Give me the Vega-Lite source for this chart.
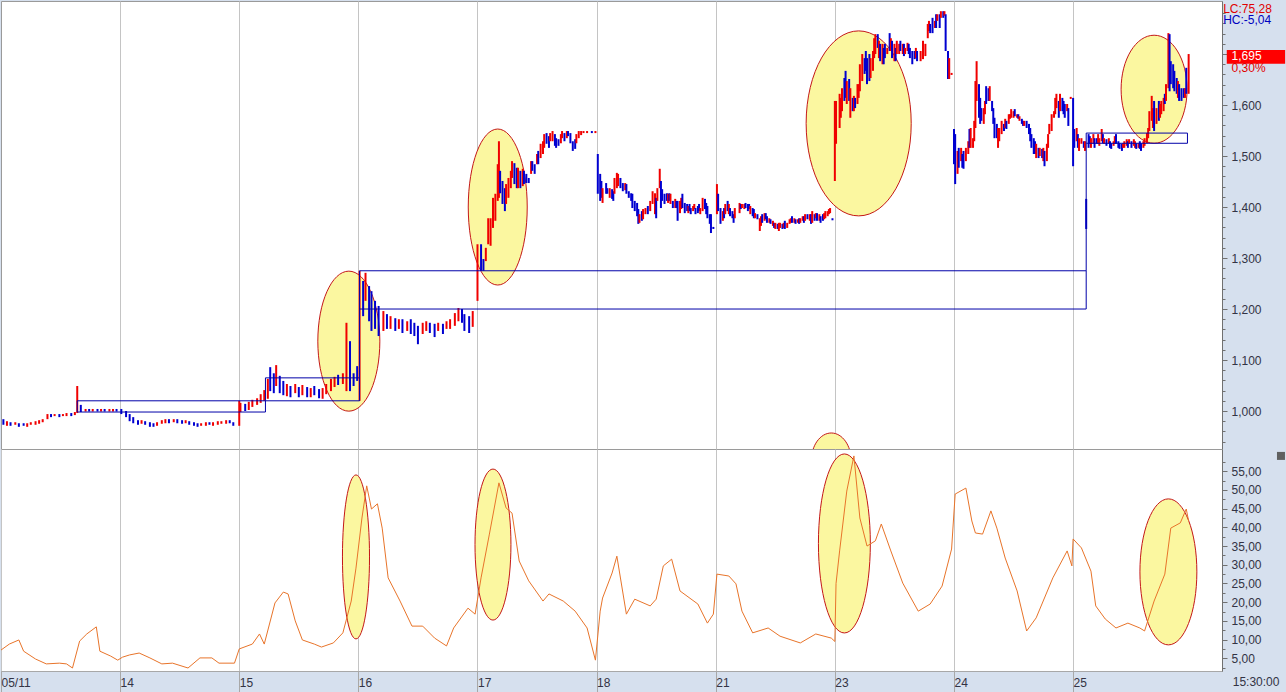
{
"$schema":"https://vega.github.io/schema/vega-lite/v6.json",
"background":"#d6e0ee",
"padding":0,
"spacing":0,
"bounds":"flush",
"config":{"view":{"stroke":"#9a9a9a","fill":"#ffffff"},"font":"Liberation Sans","axis":{"labelFont":"Liberation Sans","labelFontSize":12,"labelColor":"#333344"}},
"datasets":{
"candles":[
{"t":0.02,"p":973,"p2":984,"c":"d"},{"t":0.05,"p":971,"p2":980,"c":"u"},{"t":0.08,"p":971,"p2":978,"c":"d"},{"t":0.12,"p":973,"p2":978,"c":"u"},{"t":0.15,"p":969,"p2":976,"c":"d"},{"t":0.19,"p":971,"p2":976,"c":"d"},{"t":0.22,"p":969,"p2":976,"c":"u"},{"t":0.25,"p":973,"p2":978,"c":"u"},{"t":0.29,"p":973,"p2":980,"c":"u"},{"t":0.32,"p":975,"p2":982,"c":"u"},{"t":0.35,"p":978,"p2":984,"c":"u"},{"t":0.39,"p":984,"p2":994,"c":"u"},{"t":0.42,"p":988,"p2":994,"c":"d"},{"t":0.45,"p":990,"p2":994,"c":"u"},{"t":0.49,"p":988,"p2":994,"c":"d"},{"t":0.52,"p":990,"p2":994,"c":"u"},{"t":0.55,"p":990,"p2":996,"c":"u"},{"t":0.59,"p":990,"p2":996,"c":"d"},{"t":0.62,"p":992,"p2":998,"c":"u"},{"t":0.64,"p":996,"p2":1049,"c":"u"},{"t":0.67,"p":998,"p2":1012,"c":"d"},{"t":0.71,"p":999,"p2":1004,"c":"u"},{"t":0.74,"p":999,"p2":1004,"c":"d"},{"t":0.77,"p":999,"p2":1004,"c":"u"},{"t":0.81,"p":999,"p2":1004,"c":"d"},{"t":0.84,"p":999,"p2":1004,"c":"u"},{"t":0.87,"p":999,"p2":1004,"c":"d"},{"t":0.91,"p":999,"p2":1004,"c":"u"},{"t":0.94,"p":999,"p2":1004,"c":"u"},{"t":0.97,"p":999,"p2":1004,"c":"d"},
{"t":1.01,"p":994,"p2":1004,"c":"d"},{"t":1.05,"p":988,"p2":1000,"c":"d"},{"t":1.08,"p":980,"p2":994,"c":"d"},{"t":1.11,"p":976,"p2":988,"c":"d"},{"t":1.15,"p":973,"p2":982,"c":"d"},{"t":1.18,"p":975,"p2":982,"c":"u"},{"t":1.21,"p":973,"p2":980,"c":"d"},{"t":1.25,"p":969,"p2":978,"c":"d"},{"t":1.28,"p":969,"p2":976,"c":"d"},{"t":1.31,"p":971,"p2":978,"c":"u"},{"t":1.35,"p":975,"p2":982,"c":"u"},{"t":1.38,"p":976,"p2":984,"c":"u"},{"t":1.41,"p":976,"p2":984,"c":"d"},{"t":1.45,"p":978,"p2":984,"c":"u"},{"t":1.48,"p":976,"p2":984,"c":"d"},{"t":1.52,"p":975,"p2":982,"c":"d"},{"t":1.55,"p":976,"p2":982,"c":"u"},{"t":1.58,"p":973,"p2":980,"c":"d"},{"t":1.62,"p":971,"p2":978,"c":"d"},{"t":1.65,"p":969,"p2":976,"c":"d"},{"t":1.68,"p":971,"p2":976,"c":"u"},{"t":1.72,"p":971,"p2":978,"c":"u"},{"t":1.75,"p":973,"p2":978,"c":"d"},{"t":1.78,"p":971,"p2":978,"c":"u"},{"t":1.82,"p":973,"p2":980,"c":"u"},{"t":1.85,"p":975,"p2":980,"c":"u"},{"t":1.89,"p":975,"p2":982,"c":"u"},{"t":1.92,"p":976,"p2":982,"c":"d"},{"t":1.95,"p":971,"p2":978,"c":"d"},
{"t":2.0,"p":971,"p2":1020,"c":"u"},{"t":2.01,"p":998,"p2":1016,"c":"u"},{"t":2.05,"p":1000,"p2":1014,"c":"d"},{"t":2.08,"p":1002,"p2":1018,"c":"u"},{"t":2.11,"p":1008,"p2":1022,"c":"u"},{"t":2.15,"p":1012,"p2":1025,"c":"u"},{"t":2.18,"p":1016,"p2":1033,"c":"u"},{"t":2.21,"p":1020,"p2":1041,"c":"u"},{"t":2.24,"p":1024,"p2":1063,"c":"u"},{"t":2.26,"p":1039,"p2":1086,"c":"d"},{"t":2.29,"p":1035,"p2":1074,"c":"d"},{"t":2.31,"p":1049,"p2":1090,"c":"u"},{"t":2.34,"p":1035,"p2":1069,"c":"d"},{"t":2.37,"p":1031,"p2":1059,"c":"d"},{"t":2.4,"p":1029,"p2":1053,"c":"u"},{"t":2.43,"p":1027,"p2":1049,"c":"d"},{"t":2.47,"p":1035,"p2":1053,"c":"u"},{"t":2.5,"p":1027,"p2":1047,"c":"d"},{"t":2.53,"p":1031,"p2":1051,"c":"u"},{"t":2.57,"p":1027,"p2":1047,"c":"d"},{"t":2.6,"p":1027,"p2":1045,"c":"u"},{"t":2.63,"p":1031,"p2":1049,"c":"d"},{"t":2.67,"p":1025,"p2":1043,"c":"d"},{"t":2.7,"p":1024,"p2":1045,"c":"u"},{"t":2.73,"p":1033,"p2":1053,"c":"u"},{"t":2.77,"p":1039,"p2":1063,"c":"u"},{"t":2.8,"p":1047,"p2":1067,"c":"u"},{"t":2.83,"p":1051,"p2":1071,"c":"d"},{"t":2.87,"p":1053,"p2":1074,"c":"u"},{"t":2.9,"p":1039,"p2":1173,"c":"u"},{"t":2.93,"p":1039,"p2":1137,"c":"d"},{"t":2.96,"p":1049,"p2":1074,"c":"d"},{"t":2.99,"p":1059,"p2":1088,"c":"d"},
{"t":3.01,"p":1020,"p2":1275,"c":"u"},{"t":3.04,"p":1186,"p2":1255,"c":"d"},{"t":3.06,"p":1216,"p2":1271,"c":"u"},{"t":3.09,"p":1176,"p2":1245,"c":"d"},{"t":3.11,"p":1157,"p2":1235,"c":"d"},{"t":3.14,"p":1161,"p2":1216,"c":"d"},{"t":3.17,"p":1147,"p2":1206,"c":"d"},{"t":3.21,"p":1157,"p2":1196,"c":"u"},{"t":3.24,"p":1161,"p2":1190,"c":"d"},{"t":3.27,"p":1161,"p2":1186,"c":"u"},{"t":3.31,"p":1157,"p2":1182,"c":"d"},{"t":3.34,"p":1161,"p2":1180,"c":"u"},{"t":3.37,"p":1153,"p2":1180,"c":"d"},{"t":3.41,"p":1157,"p2":1176,"c":"u"},{"t":3.44,"p":1151,"p2":1180,"c":"d"},{"t":3.47,"p":1147,"p2":1173,"c":"d"},{"t":3.5,"p":1131,"p2":1167,"c":"d"},{"t":3.54,"p":1151,"p2":1173,"c":"u"},{"t":3.57,"p":1157,"p2":1176,"c":"u"},{"t":3.6,"p":1153,"p2":1173,"c":"d"},{"t":3.64,"p":1145,"p2":1171,"c":"d"},{"t":3.67,"p":1157,"p2":1173,"c":"u"},{"t":3.71,"p":1151,"p2":1171,"c":"d"},{"t":3.74,"p":1161,"p2":1176,"c":"u"},{"t":3.77,"p":1161,"p2":1180,"c":"u"},{"t":3.81,"p":1167,"p2":1192,"c":"u"},{"t":3.84,"p":1176,"p2":1202,"c":"u"},{"t":3.87,"p":1173,"p2":1200,"c":"d"},{"t":3.89,"p":1157,"p2":1190,"c":"d"},{"t":3.93,"p":1153,"p2":1186,"c":"d"},{"t":3.96,"p":1165,"p2":1196,"c":"u"},
{"t":4.0,"p":1216,"p2":1327,"c":"u"},{"t":4.03,"p":1275,"p2":1327,"c":"d"},{"t":4.05,"p":1275,"p2":1298,"c":"d"},{"t":4.07,"p":1294,"p2":1320,"c":"u"},{"t":4.09,"p":1327,"p2":1378,"c":"u"},{"t":4.11,"p":1324,"p2":1378,"c":"u"},{"t":4.13,"p":1359,"p2":1418,"c":"u"},{"t":4.15,"p":1373,"p2":1426,"c":"u"},{"t":4.17,"p":1412,"p2":1484,"c":"u"},{"t":4.18,"p":1418,"p2":1529,"c":"u"},{"t":4.19,"p":1427,"p2":1471,"c":"d"},{"t":4.21,"p":1406,"p2":1451,"c":"d"},{"t":4.23,"p":1392,"p2":1437,"c":"d"},{"t":4.24,"p":1406,"p2":1445,"c":"u"},{"t":4.26,"p":1418,"p2":1457,"c":"u"},{"t":4.28,"p":1437,"p2":1471,"c":"u"},{"t":4.29,"p":1457,"p2":1490,"c":"u"},{"t":4.31,"p":1445,"p2":1486,"c":"d"},{"t":4.33,"p":1437,"p2":1477,"c":"d"},{"t":4.34,"p":1437,"p2":1477,"c":"u"},{"t":4.36,"p":1437,"p2":1471,"c":"d"},{"t":4.38,"p":1441,"p2":1475,"c":"u"},{"t":4.39,"p":1445,"p2":1471,"c":"d"},{"t":4.41,"p":1447,"p2":1465,"c":"d"},{"t":4.43,"p":1447,"p2":1457,"c":"d"},{"t":4.45,"p":1465,"p2":1490,"c":"u"},{"t":4.46,"p":1471,"p2":1490,"c":"d"},{"t":4.48,"p":1465,"p2":1484,"c":"d"},{"t":4.5,"p":1484,"p2":1504,"c":"u"},{"t":4.51,"p":1484,"p2":1510,"c":"d"},{"t":4.53,"p":1496,"p2":1524,"c":"u"},{"t":4.55,"p":1504,"p2":1529,"c":"u"},{"t":4.56,"p":1516,"p2":1543,"c":"u"},{"t":4.58,"p":1524,"p2":1545,"c":"d"},{"t":4.6,"p":1516,"p2":1539,"c":"d"},{"t":4.61,"p":1529,"p2":1545,"c":"u"},{"t":4.63,"p":1529,"p2":1549,"c":"u"},{"t":4.65,"p":1520,"p2":1543,"c":"d"},{"t":4.66,"p":1516,"p2":1535,"c":"d"},{"t":4.68,"p":1520,"p2":1533,"c":"d"},{"t":4.7,"p":1525,"p2":1543,"c":"u"},{"t":4.71,"p":1535,"p2":1549,"c":"u"},{"t":4.73,"p":1529,"p2":1545,"c":"d"},{"t":4.75,"p":1535,"p2":1549,"c":"u"},{"t":4.76,"p":1539,"p2":1549,"c":"d"},{"t":4.78,"p":1525,"p2":1545,"c":"d"},{"t":4.8,"p":1510,"p2":1529,"c":"d"},{"t":4.82,"p":1514,"p2":1533,"c":"d"},{"t":4.83,"p":1525,"p2":1543,"c":"u"},{"t":4.85,"p":1535,"p2":1549,"c":"u"},{"t":4.87,"p":1541,"p2":1549,"c":"u"},{"t":4.89,"p":1545,"p2":1549,"c":"u"},{"t":4.92,"p":1545,"p2":1549,"c":"u"},{"t":4.96,"p":1545,"p2":1549,"c":"d"},{"t":4.99,"p":1545,"p2":1549,"c":"u"},
{"t":5.01,"p":1426,"p2":1504,"c":"d"},{"t":5.03,"p":1412,"p2":1465,"c":"d"},{"t":5.04,"p":1418,"p2":1451,"c":"d"},{"t":5.05,"p":1408,"p2":1437,"c":"u"},{"t":5.08,"p":1426,"p2":1447,"c":"d"},{"t":5.09,"p":1426,"p2":1437,"c":"d"},{"t":5.11,"p":1418,"p2":1437,"c":"u"},{"t":5.13,"p":1416,"p2":1435,"c":"d"},{"t":5.14,"p":1412,"p2":1431,"c":"d"},{"t":5.15,"p":1426,"p2":1457,"c":"u"},{"t":5.17,"p":1437,"p2":1467,"c":"u"},{"t":5.18,"p":1441,"p2":1465,"c":"u"},{"t":5.2,"p":1437,"p2":1457,"c":"d"},{"t":5.22,"p":1431,"p2":1447,"c":"d"},{"t":5.24,"p":1433,"p2":1447,"c":"u"},{"t":5.25,"p":1426,"p2":1445,"c":"d"},{"t":5.27,"p":1418,"p2":1431,"c":"d"},{"t":5.29,"p":1412,"p2":1427,"c":"d"},{"t":5.3,"p":1398,"p2":1426,"c":"d"},{"t":5.32,"p":1392,"p2":1412,"c":"d"},{"t":5.34,"p":1382,"p2":1408,"c":"d"},{"t":5.35,"p":1367,"p2":1396,"c":"d"},{"t":5.36,"p":1369,"p2":1386,"c":"u"},{"t":5.38,"p":1373,"p2":1392,"c":"d"},{"t":5.39,"p":1376,"p2":1396,"c":"u"},{"t":5.41,"p":1386,"p2":1398,"c":"u"},{"t":5.43,"p":1386,"p2":1402,"c":"d"},{"t":5.45,"p":1392,"p2":1412,"c":"u"},{"t":5.47,"p":1406,"p2":1431,"c":"u"},{"t":5.49,"p":1386,"p2":1427,"c":"u"},{"t":5.5,"p":1378,"p2":1418,"c":"d"},{"t":5.51,"p":1412,"p2":1437,"c":"u"},{"t":5.53,"p":1437,"p2":1475,"c":"u"},{"t":5.54,"p":1398,"p2":1451,"c":"d"},{"t":5.55,"p":1412,"p2":1435,"c":"d"},{"t":5.57,"p":1406,"p2":1426,"c":"d"},{"t":5.59,"p":1412,"p2":1427,"c":"d"},{"t":5.6,"p":1408,"p2":1426,"c":"u"},{"t":5.61,"p":1412,"p2":1427,"c":"d"},{"t":5.62,"p":1406,"p2":1426,"c":"u"},{"t":5.64,"p":1398,"p2":1412,"c":"d"},{"t":5.66,"p":1398,"p2":1416,"c":"u"},{"t":5.67,"p":1398,"p2":1412,"c":"d"},{"t":5.68,"p":1373,"p2":1412,"c":"d"},{"t":5.7,"p":1388,"p2":1412,"c":"u"},{"t":5.71,"p":1396,"p2":1418,"c":"u"},{"t":5.72,"p":1398,"p2":1426,"c":"d"},{"t":5.74,"p":1388,"p2":1408,"c":"d"},{"t":5.76,"p":1392,"p2":1406,"c":"d"},{"t":5.77,"p":1388,"p2":1402,"c":"u"},{"t":5.78,"p":1392,"p2":1406,"c":"d"},{"t":5.79,"p":1386,"p2":1398,"c":"d"},{"t":5.81,"p":1392,"p2":1402,"c":"u"},{"t":5.82,"p":1396,"p2":1406,"c":"u"},{"t":5.83,"p":1386,"p2":1398,"c":"d"},{"t":5.85,"p":1388,"p2":1402,"c":"d"},{"t":5.86,"p":1392,"p2":1406,"c":"d"},{"t":5.87,"p":1386,"p2":1398,"c":"u"},{"t":5.89,"p":1392,"p2":1418,"c":"u"},{"t":5.91,"p":1396,"p2":1416,"c":"d"},{"t":5.92,"p":1386,"p2":1408,"c":"d"},{"t":5.93,"p":1378,"p2":1402,"c":"d"},{"t":5.95,"p":1367,"p2":1386,"c":"d"},{"t":5.96,"p":1349,"p2":1386,"c":"d"},{"t":5.98,"p":1357,"p2":1361,"c":"d"},
{"t":6.01,"p":1386,"p2":1445,"c":"u"},{"t":6.02,"p":1392,"p2":1426,"c":"d"},{"t":6.04,"p":1367,"p2":1398,"c":"d"},{"t":6.06,"p":1373,"p2":1392,"c":"u"},{"t":6.07,"p":1378,"p2":1398,"c":"d"},{"t":6.08,"p":1386,"p2":1406,"c":"u"},{"t":6.1,"p":1392,"p2":1412,"c":"d"},{"t":6.11,"p":1386,"p2":1406,"c":"u"},{"t":6.12,"p":1382,"p2":1398,"c":"d"},{"t":6.14,"p":1378,"p2":1392,"c":"d"},{"t":6.15,"p":1369,"p2":1386,"c":"d"},{"t":6.16,"p":1378,"p2":1398,"c":"u"},{"t":6.2,"p":1388,"p2":1408,"c":"u"},{"t":6.21,"p":1396,"p2":1406,"c":"d"},{"t":6.22,"p":1398,"p2":1406,"c":"u"},{"t":6.24,"p":1396,"p2":1406,"c":"u"},{"t":6.25,"p":1398,"p2":1408,"c":"d"},{"t":6.27,"p":1392,"p2":1406,"c":"d"},{"t":6.28,"p":1396,"p2":1406,"c":"d"},{"t":6.29,"p":1386,"p2":1402,"c":"u"},{"t":6.31,"p":1382,"p2":1398,"c":"d"},{"t":6.32,"p":1378,"p2":1396,"c":"d"},{"t":6.33,"p":1378,"p2":1388,"c":"u"},{"t":6.35,"p":1376,"p2":1386,"c":"d"},{"t":6.37,"p":1353,"p2":1378,"c":"u"},{"t":6.38,"p":1363,"p2":1382,"c":"u"},{"t":6.39,"p":1369,"p2":1386,"c":"d"},{"t":6.41,"p":1373,"p2":1388,"c":"u"},{"t":6.42,"p":1376,"p2":1388,"c":"d"},{"t":6.43,"p":1369,"p2":1382,"c":"d"},{"t":6.45,"p":1369,"p2":1378,"c":"u"},{"t":6.46,"p":1367,"p2":1376,"c":"d"},{"t":6.48,"p":1363,"p2":1373,"c":"u"},{"t":6.49,"p":1359,"p2":1369,"c":"d"},{"t":6.5,"p":1357,"p2":1369,"c":"u"},{"t":6.52,"p":1357,"p2":1367,"c":"d"},{"t":6.53,"p":1353,"p2":1369,"c":"u"},{"t":6.54,"p":1359,"p2":1369,"c":"u"},{"t":6.56,"p":1357,"p2":1367,"c":"d"},{"t":6.57,"p":1359,"p2":1369,"c":"u"},{"t":6.58,"p":1357,"p2":1373,"c":"d"},{"t":6.6,"p":1359,"p2":1369,"c":"u"},{"t":6.62,"p":1367,"p2":1376,"c":"u"},{"t":6.63,"p":1369,"p2":1378,"c":"u"},{"t":6.64,"p":1369,"p2":1382,"c":"d"},{"t":6.66,"p":1369,"p2":1378,"c":"u"},{"t":6.67,"p":1367,"p2":1376,"c":"d"},{"t":6.69,"p":1369,"p2":1376,"c":"u"},{"t":6.7,"p":1367,"p2":1378,"c":"d"},{"t":6.71,"p":1369,"p2":1378,"c":"u"},{"t":6.73,"p":1373,"p2":1382,"c":"u"},{"t":6.74,"p":1369,"p2":1382,"c":"d"},{"t":6.75,"p":1373,"p2":1386,"c":"u"},{"t":6.77,"p":1376,"p2":1386,"c":"d"},{"t":6.79,"p":1373,"p2":1386,"c":"u"},{"t":6.8,"p":1367,"p2":1386,"c":"d"},{"t":6.81,"p":1369,"p2":1392,"c":"u"},{"t":6.83,"p":1373,"p2":1386,"c":"d"},{"t":6.84,"p":1378,"p2":1388,"c":"u"},{"t":6.85,"p":1373,"p2":1388,"c":"d"},{"t":6.87,"p":1373,"p2":1386,"c":"u"},{"t":6.88,"p":1369,"p2":1382,"c":"d"},{"t":6.9,"p":1373,"p2":1386,"c":"d"},{"t":6.91,"p":1376,"p2":1388,"c":"u"},{"t":6.92,"p":1378,"p2":1392,"c":"u"},{"t":6.94,"p":1382,"p2":1392,"c":"u"},{"t":6.95,"p":1386,"p2":1396,"c":"u"},{"t":6.96,"p":1388,"p2":1398,"c":"u"},{"t":6.98,"p":1374,"p2":1378,"c":"d"},
{"t":7.0,"p":1451,"p2":1608,"c":"u"},{"t":7.01,"p":1524,"p2":1608,"c":"u"},{"t":7.04,"p":1555,"p2":1622,"c":"u"},{"t":7.05,"p":1575,"p2":1614,"c":"u"},{"t":7.06,"p":1588,"p2":1633,"c":"u"},{"t":7.08,"p":1608,"p2":1653,"c":"d"},{"t":7.09,"p":1614,"p2":1667,"c":"d"},{"t":7.1,"p":1602,"p2":1647,"c":"u"},{"t":7.12,"p":1608,"p2":1651,"c":"d"},{"t":7.13,"p":1575,"p2":1633,"c":"u"},{"t":7.15,"p":1588,"p2":1614,"c":"d"},{"t":7.16,"p":1588,"p2":1618,"c":"u"},{"t":7.17,"p":1594,"p2":1614,"c":"d"},{"t":7.19,"p":1602,"p2":1641,"c":"u"},{"t":7.2,"p":1614,"p2":1641,"c":"u"},{"t":7.21,"p":1627,"p2":1680,"c":"u"},{"t":7.23,"p":1647,"p2":1700,"c":"u"},{"t":7.25,"p":1661,"p2":1692,"c":"d"},{"t":7.26,"p":1667,"p2":1706,"c":"d"},{"t":7.27,"p":1641,"p2":1692,"c":"d"},{"t":7.29,"p":1647,"p2":1700,"c":"d"},{"t":7.3,"p":1653,"p2":1692,"c":"u"},{"t":7.32,"p":1667,"p2":1706,"c":"u"},{"t":7.33,"p":1692,"p2":1731,"c":"u"},{"t":7.34,"p":1700,"p2":1739,"c":"u"},{"t":7.36,"p":1712,"p2":1739,"c":"d"},{"t":7.37,"p":1692,"p2":1726,"c":"u"},{"t":7.38,"p":1686,"p2":1720,"c":"d"},{"t":7.4,"p":1680,"p2":1720,"c":"u"},{"t":7.41,"p":1680,"p2":1712,"c":"d"},{"t":7.42,"p":1692,"p2":1720,"c":"d"},{"t":7.44,"p":1700,"p2":1712,"c":"u"},{"t":7.46,"p":1706,"p2":1741,"c":"d"},{"t":7.47,"p":1706,"p2":1731,"c":"u"},{"t":7.48,"p":1692,"p2":1726,"c":"d"},{"t":7.5,"p":1686,"p2":1720,"c":"u"},{"t":7.51,"p":1686,"p2":1712,"c":"d"},{"t":7.52,"p":1700,"p2":1726,"c":"u"},{"t":7.54,"p":1700,"p2":1720,"c":"u"},{"t":7.55,"p":1706,"p2":1726,"c":"d"},{"t":7.57,"p":1700,"p2":1720,"c":"u"},{"t":7.58,"p":1696,"p2":1720,"c":"d"},{"t":7.59,"p":1700,"p2":1712,"c":"u"},{"t":7.61,"p":1706,"p2":1722,"c":"u"},{"t":7.62,"p":1700,"p2":1720,"c":"d"},{"t":7.63,"p":1692,"p2":1712,"c":"d"},{"t":7.65,"p":1680,"p2":1706,"c":"d"},{"t":7.67,"p":1690,"p2":1706,"c":"d"},{"t":7.68,"p":1692,"p2":1712,"c":"u"},{"t":7.69,"p":1686,"p2":1706,"c":"d"},{"t":7.72,"p":1686,"p2":1706,"c":"u"},{"t":7.74,"p":1690,"p2":1726,"c":"u"},{"t":7.76,"p":1696,"p2":1720,"c":"u"},{"t":7.78,"p":1731,"p2":1759,"c":"u"},{"t":7.79,"p":1745,"p2":1765,"c":"u"},{"t":7.8,"p":1741,"p2":1759,"c":"d"},{"t":7.82,"p":1741,"p2":1771,"c":"d"},{"t":7.84,"p":1751,"p2":1765,"c":"u"},{"t":7.85,"p":1751,"p2":1778,"c":"d"},{"t":7.86,"p":1765,"p2":1778,"c":"u"},{"t":7.88,"p":1751,"p2":1778,"c":"d"},{"t":7.89,"p":1771,"p2":1784,"c":"u"},{"t":7.91,"p":1771,"p2":1784,"c":"d"},{"t":7.92,"p":1775,"p2":1784,"c":"u"},{"t":7.93,"p":1706,"p2":1778,"c":"d"},{"t":7.95,"p":1651,"p2":1706,"c":"d"},{"t":7.96,"p":1651,"p2":1692,"c":"u"},{"t":7.98,"p":1659,"p2":1663,"c":"u"},
{"t":8.0,"p":1484,"p2":1553,"c":"d"},{"t":8.01,"p":1445,"p2":1543,"c":"d"},{"t":8.03,"p":1465,"p2":1510,"c":"u"},{"t":8.04,"p":1477,"p2":1516,"c":"d"},{"t":8.06,"p":1490,"p2":1516,"c":"u"},{"t":8.07,"p":1477,"p2":1504,"c":"d"},{"t":8.08,"p":1475,"p2":1510,"c":"d"},{"t":8.1,"p":1490,"p2":1516,"c":"u"},{"t":8.12,"p":1504,"p2":1529,"c":"u"},{"t":8.13,"p":1516,"p2":1553,"c":"d"},{"t":8.14,"p":1516,"p2":1555,"c":"u"},{"t":8.16,"p":1516,"p2":1535,"c":"u"},{"t":8.17,"p":1529,"p2":1569,"c":"u"},{"t":8.18,"p":1555,"p2":1647,"c":"u"},{"t":8.19,"p":1608,"p2":1686,"c":"u"},{"t":8.21,"p":1575,"p2":1641,"c":"d"},{"t":8.22,"p":1563,"p2":1614,"c":"d"},{"t":8.23,"p":1569,"p2":1594,"c":"d"},{"t":8.25,"p":1563,"p2":1594,"c":"u"},{"t":8.26,"p":1582,"p2":1608,"c":"u"},{"t":8.27,"p":1602,"p2":1637,"c":"d"},{"t":8.29,"p":1608,"p2":1633,"c":"d"},{"t":8.3,"p":1608,"p2":1637,"c":"u"},{"t":8.32,"p":1588,"p2":1608,"c":"d"},{"t":8.33,"p":1563,"p2":1594,"c":"d"},{"t":8.34,"p":1535,"p2":1575,"c":"d"},{"t":8.36,"p":1535,"p2":1563,"c":"d"},{"t":8.37,"p":1516,"p2":1555,"c":"u"},{"t":8.38,"p":1529,"p2":1555,"c":"u"},{"t":8.4,"p":1543,"p2":1569,"c":"u"},{"t":8.42,"p":1549,"p2":1563,"c":"d"},{"t":8.43,"p":1555,"p2":1573,"c":"u"},{"t":8.44,"p":1553,"p2":1569,"c":"d"},{"t":8.46,"p":1563,"p2":1582,"c":"u"},{"t":8.47,"p":1573,"p2":1582,"c":"u"},{"t":8.48,"p":1575,"p2":1592,"c":"u"},{"t":8.5,"p":1575,"p2":1588,"c":"u"},{"t":8.51,"p":1578,"p2":1592,"c":"d"},{"t":8.53,"p":1575,"p2":1582,"c":"u"},{"t":8.54,"p":1573,"p2":1582,"c":"d"},{"t":8.55,"p":1569,"p2":1578,"c":"u"},{"t":8.57,"p":1563,"p2":1573,"c":"d"},{"t":8.58,"p":1559,"p2":1569,"c":"d"},{"t":8.59,"p":1559,"p2":1569,"c":"u"},{"t":8.61,"p":1555,"p2":1569,"c":"d"},{"t":8.63,"p":1543,"p2":1563,"c":"d"},{"t":8.64,"p":1529,"p2":1555,"c":"d"},{"t":8.65,"p":1516,"p2":1543,"c":"d"},{"t":8.67,"p":1504,"p2":1535,"c":"d"},{"t":8.68,"p":1504,"p2":1529,"c":"d"},{"t":8.69,"p":1496,"p2":1524,"c":"u"},{"t":8.71,"p":1496,"p2":1516,"c":"d"},{"t":8.72,"p":1500,"p2":1516,"c":"u"},{"t":8.74,"p":1496,"p2":1514,"c":"d"},{"t":8.75,"p":1490,"p2":1516,"c":"u"},{"t":8.76,"p":1480,"p2":1510,"c":"d"},{"t":8.78,"p":1490,"p2":1524,"c":"u"},{"t":8.79,"p":1516,"p2":1543,"c":"u"},{"t":8.8,"p":1543,"p2":1563,"c":"u"},{"t":8.82,"p":1549,"p2":1582,"c":"u"},{"t":8.84,"p":1575,"p2":1588,"c":"u"},{"t":8.85,"p":1582,"p2":1614,"c":"u"},{"t":8.86,"p":1594,"p2":1622,"c":"u"},{"t":8.88,"p":1575,"p2":1608,"c":"d"},{"t":8.89,"p":1588,"p2":1622,"c":"u"},{"t":8.91,"p":1588,"p2":1614,"c":"d"},{"t":8.92,"p":1582,"p2":1608,"c":"d"},{"t":8.93,"p":1575,"p2":1602,"c":"d"},{"t":8.95,"p":1588,"p2":1602,"c":"u"},{"t":8.96,"p":1559,"p2":1594,"c":"d"},{"t":8.98,"p":1612,"p2":1616,"c":"u"},
{"t":9.0,"p":1480,"p2":1614,"c":"d"},{"t":9.01,"p":1516,"p2":1553,"c":"d"},{"t":9.03,"p":1529,"p2":1555,"c":"u"},{"t":9.04,"p":1516,"p2":1543,"c":"d"},{"t":9.05,"p":1510,"p2":1535,"c":"u"},{"t":9.07,"p":1524,"p2":1535,"c":"u"},{"t":9.09,"p":1516,"p2":1529,"c":"d"},{"t":9.1,"p":1510,"p2":1529,"c":"u"},{"t":9.11,"p":1357,"p2":1416,"c":"d"},{"t":9.13,"p":1516,"p2":1543,"c":"d"},{"t":9.14,"p":1524,"p2":1539,"c":"d"},{"t":9.15,"p":1516,"p2":1535,"c":"u"},{"t":9.17,"p":1524,"p2":1543,"c":"u"},{"t":9.18,"p":1516,"p2":1535,"c":"d"},{"t":9.2,"p":1524,"p2":1535,"c":"d"},{"t":9.21,"p":1524,"p2":1543,"c":"u"},{"t":9.22,"p":1520,"p2":1535,"c":"u"},{"t":9.24,"p":1529,"p2":1553,"c":"u"},{"t":9.25,"p":1525,"p2":1543,"c":"d"},{"t":9.26,"p":1524,"p2":1535,"c":"u"},{"t":9.28,"p":1520,"p2":1533,"c":"d"},{"t":9.3,"p":1524,"p2":1535,"c":"u"},{"t":9.31,"p":1516,"p2":1529,"c":"d"},{"t":9.32,"p":1514,"p2":1525,"c":"d"},{"t":9.34,"p":1520,"p2":1529,"c":"u"},{"t":9.35,"p":1524,"p2":1539,"c":"u"},{"t":9.36,"p":1524,"p2":1543,"c":"d"},{"t":9.38,"p":1516,"p2":1529,"c":"d"},{"t":9.39,"p":1514,"p2":1525,"c":"d"},{"t":9.41,"p":1510,"p2":1524,"c":"d"},{"t":9.42,"p":1516,"p2":1525,"c":"u"},{"t":9.43,"p":1516,"p2":1529,"c":"u"},{"t":9.45,"p":1520,"p2":1533,"c":"u"},{"t":9.46,"p":1516,"p2":1529,"c":"d"},{"t":9.47,"p":1524,"p2":1533,"c":"u"},{"t":9.49,"p":1516,"p2":1529,"c":"d"},{"t":9.51,"p":1520,"p2":1533,"c":"u"},{"t":9.52,"p":1516,"p2":1529,"c":"u"},{"t":9.53,"p":1514,"p2":1525,"c":"d"},{"t":9.55,"p":1516,"p2":1525,"c":"u"},{"t":9.56,"p":1514,"p2":1529,"c":"d"},{"t":9.57,"p":1510,"p2":1525,"c":"d"},{"t":9.59,"p":1516,"p2":1529,"c":"u"},{"t":9.6,"p":1520,"p2":1535,"c":"u"},{"t":9.62,"p":1525,"p2":1545,"c":"u"},{"t":9.63,"p":1535,"p2":1555,"c":"u"},{"t":9.64,"p":1549,"p2":1588,"c":"u"},{"t":9.66,"p":1569,"p2":1618,"c":"u"},{"t":9.67,"p":1555,"p2":1594,"c":"u"},{"t":9.68,"p":1549,"p2":1608,"c":"d"},{"t":9.7,"p":1563,"p2":1594,"c":"u"},{"t":9.72,"p":1569,"p2":1608,"c":"d"},{"t":9.73,"p":1575,"p2":1602,"c":"u"},{"t":9.74,"p":1582,"p2":1608,"c":"u"},{"t":9.76,"p":1588,"p2":1614,"c":"u"},{"t":9.77,"p":1602,"p2":1622,"c":"d"},{"t":9.78,"p":1608,"p2":1641,"c":"u"},{"t":9.8,"p":1633,"p2":1741,"c":"u"},{"t":9.81,"p":1627,"p2":1739,"c":"d"},{"t":9.82,"p":1641,"p2":1686,"c":"d"},{"t":9.84,"p":1633,"p2":1680,"c":"d"},{"t":9.85,"p":1627,"p2":1667,"c":"d"},{"t":9.87,"p":1622,"p2":1653,"c":"d"},{"t":9.88,"p":1614,"p2":1647,"c":"u"},{"t":9.89,"p":1608,"p2":1641,"c":"d"},{"t":9.91,"p":1608,"p2":1633,"c":"d"},{"t":9.93,"p":1614,"p2":1633,"c":"d"},{"t":9.94,"p":1614,"p2":1633,"c":"u"},{"t":9.95,"p":1622,"p2":1673,"c":"d"},{"t":9.97,"p":1622,"p2":1700,"c":"u"}
],
"ind":[
{"t":0,"v":7.2},{"t":0.07,"v":8.8},{"t":0.15,"v":9.9},{"t":0.19,"v":6.9},{"t":0.29,"v":4.8},{"t":0.38,"v":3.5},{"t":0.49,"v":3.7},{"t":0.55,"v":3.5},{"t":0.6,"v":2.4},{"t":0.66,"v":9.6},{"t":0.72,"v":11.5},{"t":0.8,"v":13.4},{"t":0.83,"v":6.9},{"t":0.92,"v":5.6},{"t":0.98,"v":4.5},{"t":1.02,"v":5.3},{"t":1.08,"v":5.9},{"t":1.16,"v":6.4},{"t":1.25,"v":5.1},{"t":1.35,"v":3.5},{"t":1.44,"v":3.7},{"t":1.57,"v":2.4},{"t":1.67,"v":5.1},{"t":1.77,"v":5.1},{"t":1.83,"v":3.7},{"t":1.96,"v":3.7},{"t":2.0,"v":7.5},{"t":2.11,"v":8.8},{"t":2.17,"v":11.5},{"t":2.21,"v":8.8},{"t":2.3,"v":19.8},{"t":2.37,"v":22.7},{"t":2.41,"v":22.2},{"t":2.47,"v":15.0},{"t":2.53,"v":9.9},{"t":2.63,"v":8.8},{"t":2.69,"v":8.0},{"t":2.79,"v":9.1},{"t":2.87,"v":11.8},{"t":2.94,"v":20.3},{"t":2.98,"v":29.1},{"t":3.03,"v":42.5},{"t":3.07,"v":51.1},{"t":3.11,"v":44.9},{"t":3.16,"v":46.3},{"t":3.2,"v":39.8},{"t":3.25,"v":26.5},{"t":3.35,"v":20.3},{"t":3.45,"v":13.6},{"t":3.54,"v":13.6},{"t":3.64,"v":10.4},{"t":3.74,"v":8.3},{"t":3.8,"v":13.1},{"t":3.92,"v":18.4},{"t":3.98,"v":16.8},{"t":4.03,"v":26.5},{"t":4.1,"v":38.2},{"t":4.18,"v":51.9},{"t":4.24,"v":45.2},{"t":4.29,"v":43.8},{"t":4.35,"v":31.0},{"t":4.43,"v":25.7},{"t":4.55,"v":20.3},{"t":4.6,"v":22.2},{"t":4.72,"v":20.3},{"t":4.82,"v":17.6},{"t":4.92,"v":13.1},{"t":4.99,"v":4.5},{"t":5.03,"v":17.6},{"t":5.05,"v":21.1},{"t":5.13,"v":27.8},{"t":5.17,"v":32.3},{"t":5.25,"v":16.8},{"t":5.32,"v":20.8},{"t":5.45,"v":19.0},{"t":5.5,"v":20.8},{"t":5.56,"v":29.7},{"t":5.63,"v":31.5},{"t":5.7,"v":23.0},{"t":5.85,"v":19.5},{"t":5.93,"v":14.4},{"t":5.98,"v":16.8},{"t":6.01,"v":27.5},{"t":6.11,"v":27.0},{"t":6.17,"v":24.9},{"t":6.22,"v":17.6},{"t":6.31,"v":11.8},{"t":6.44,"v":13.1},{"t":6.54,"v":10.9},{"t":6.71,"v":9.1},{"t":6.84,"v":11.5},{"t":6.97,"v":10.4},{"t":7.0,"v":9.5},{"t":7.01,"v":25.0},{"t":7.04,"v":33.7},{"t":7.1,"v":49.7},{"t":7.16,"v":59.1},{"t":7.21,"v":42.5},{"t":7.27,"v":35.0},{"t":7.34,"v":36.4},{"t":7.39,"v":40.9},{"t":7.47,"v":33.7},{"t":7.57,"v":25.1},{"t":7.7,"v":17.6},{"t":7.8,"v":19.5},{"t":7.9,"v":24.3},{"t":7.98,"v":34.2},{"t":8.01,"v":48.9},{"t":8.1,"v":50.5},{"t":8.15,"v":41.7},{"t":8.18,"v":38.5},{"t":8.24,"v":38.2},{"t":8.31,"v":44.4},{"t":8.36,"v":39.8},{"t":8.43,"v":31.8},{"t":8.53,"v":23.0},{"t":8.61,"v":12.3},{"t":8.69,"v":15.8},{"t":8.83,"v":26.5},{"t":8.95,"v":33.7},{"t":8.99,"v":29.7},{"t":9.0,"v":36.9},{"t":9.07,"v":34.5},{"t":9.15,"v":28.3},{"t":9.19,"v":19.0},{"t":9.27,"v":15.5},{"t":9.36,"v":13.1},{"t":9.46,"v":14.4},{"t":9.56,"v":13.1},{"t":9.6,"v":12.3},{"t":9.68,"v":20.3},{"t":9.77,"v":27.5},{"t":9.82,"v":39.8},{"t":9.9,"v":41.2},{"t":9.95,"v":44.9},{"t":9.97,"v":41.7}
],
"boxes":[{"t":0.64,"t2":2.22,"p":998,"p2":1020},{"t":2.22,"t2":3.01,"p":1020,"p2":1065},{"t":3.01,"t2":9.11,"p":1200,"p2":1275},{"t":9.11,"t2":9.96,"p":1525,"p2":1545}],
"conn":[{"t":3.01,"p":1065,"p2":1200},{"t":9.11,"p":1275,"p2":1525}],
"ellTop":[{"id":"E1","t":2.92,"p":1137},{"id":"E2","t":4.17,"p":1400},{"id":"E3","t":7.2,"p":1564},{"id":"E4","t":9.68,"p":1631},{"id":"E5","t":6.97,"p":902}],
"ellBot":[{"id":"B1","t":2.98,"v":32.1},{"id":"B2","t":4.13,"v":35.4},{"id":"B3","t":7.08,"v":35.7},{"id":"B4","t":9.8,"v":28.1}]
},
"vconcat":[
{
"width":1221,"height":448,
"resolve":{"axis":{"x":"independent","y":"independent"}},
"layer":[
{
"encoding":{
"x":{"field":"t","type":"quantitative","scale":{"domain":[0,10.25],"nice":false,"zero":false},"axis":{"values":[1,2,3,4,5,6,7,8,9],"grid":true,"gridColor":"#c4c4c4","labels":false,"ticks":false,"domain":false,"title":null,"minExtent":0,"maxExtent":0}},
"y":{"field":"p","type":"quantitative","scale":{"domain":[925.5,1804],"nice":false,"zero":false},"axis":{"orient":"right","values":[940,960,980,1000,1020,1040,1060,1080,1100,1120,1140,1160,1180,1200,1220,1240,1260,1280,1300,1320,1340,1360,1380,1400,1420,1440,1460,1480,1500,1520,1540,1560,1580,1600,1620,1640,1660,1680,1700,1720,1740,1760,1780],"labelExpr":"datum.value % 100 === 0 && datum.value <= 1600 ? format(datum.value, ',') : ''","tickSize":{"condition":{"test":"datum.value % 100 === 0","value":5},"value":3},"tickColor":"#707070","domainColor":"#707070","labelPadding":4,"labelBaseline":"middle","labelOverlap":false,"grid":false,"title":null,"minExtent":65,"maxExtent":65}}
},
"layer":[
{"data":{"name":"ellTop"},"transform":[{"filter":"datum.id==='E1'"}],"mark":{"type":"point","shape":"M-0.443,0A0.443,1 0 1,0 0.443,0A0.443,1 0 1,0 -0.443,0Z","size":19600,"filled":true,"fill":"#fbf7a0","stroke":"#c41818","strokeWidth":1,"opacity":1}},
{"data":{"name":"ellTop"},"transform":[{"filter":"datum.id==='E2'"}],"mark":{"type":"point","shape":"M-0.378,0A0.378,1 0 1,0 0.378,0A0.378,1 0 1,0 -0.378,0Z","size":24336,"filled":true,"fill":"#fbf7a0","stroke":"#c41818","strokeWidth":1,"opacity":1}},
{"data":{"name":"ellTop"},"transform":[{"filter":"datum.id==='E3'"}],"mark":{"type":"point","shape":"M-0.568,0A0.568,1 0 1,0 0.568,0A0.568,1 0 1,0 -0.568,0Z","size":34225,"filled":true,"fill":"#fbf7a0","stroke":"#c41818","strokeWidth":1,"opacity":1}},
{"data":{"name":"ellTop"},"transform":[{"filter":"datum.id==='E4'"}],"mark":{"type":"point","shape":"M-0.611,0A0.611,1 0 1,0 0.611,0A0.611,1 0 1,0 -0.611,0Z","size":11664,"filled":true,"fill":"#fbf7a0","stroke":"#c41818","strokeWidth":1,"opacity":1}},
{"data":{"name":"ellTop"},"transform":[{"filter":"datum.id==='E5'"}],"mark":{"type":"point","clip":true,"shape":"M-0.714,0A0.714,1 0 1,0 0.714,0A0.714,1 0 1,0 -0.714,0Z","size":3136,"filled":true,"fill":"#fbf7a0","stroke":"#c41818","strokeWidth":1,"opacity":1}},
{"data":{"name":"candles"},"mark":{"type":"rule","strokeWidth":2},"encoding":{"y2":{"field":"p2"},"color":{"field":"c","type":"nominal","scale":{"domain":["u","d"],"range":["#f00000","#0000d0"]},"legend":null}}},
{"data":{"name":"boxes"},"mark":{"type":"rect","fill":null,"fillOpacity":0,"stroke":"#0000a8","strokeWidth":1},"encoding":{"x2":{"field":"t2"},"y2":{"field":"p2"}}},
{"data":{"name":"conn"},"mark":{"type":"rule","stroke":"#0000a8","strokeWidth":1},"encoding":{"y2":{"field":"p2"}}}
]
},
{"data":{"values":[{}]},"mark":{"type":"text","clip":false,"text":"LC:75,28","align":"left","baseline":"middle","fontSize":12,"color":"#e00000"},"encoding":{"x":{"datum":10.26,"axis":null},"y":{"datum":1789,"axis":null}}},
{"data":{"values":[{}]},"mark":{"type":"text","clip":false,"text":"HC:-5,04","align":"left","baseline":"middle","fontSize":12,"color":"#0000c0"},"encoding":{"x":{"datum":10.26,"axis":null},"y":{"datum":1766,"axis":null}}},
{"data":{"values":[{}]},"mark":{"type":"rect","clip":false,"color":"#ff0000"},"encoding":{"x":{"datum":10.29,"axis":null},"x2":{"datum":10.78},"y":{"datum":1681,"axis":null},"y2":{"datum":1708}}},
{"data":{"values":[{}]},"mark":{"type":"text","clip":false,"text":"1,695","align":"left","baseline":"middle","fontSize":12,"color":"#ffffff"},"encoding":{"x":{"datum":10.33,"axis":null},"y":{"datum":1696,"axis":null}}},
{"data":{"values":[{}]},"mark":{"type":"text","clip":false,"text":"0,30%","align":"left","baseline":"middle","fontSize":12,"color":"#e00000"},"encoding":{"x":{"datum":10.33,"axis":null},"y":{"datum":1673,"axis":null}}}
]
},
{
"width":1221,"height":222,
"resolve":{"axis":{"x":"independent","y":"independent"}},
"layer":[
{
"encoding":{
"x":{"field":"t","type":"quantitative","scale":{"domain":[0,10.25],"nice":false,"zero":false},"axis":{"values":[0,1,2,3,4,5,6,7,8,9],"labelExpr":"['05/11','14','15','16','17','18','21','23','24','25'][datum.value]","grid":true,"gridColor":"#c4c4c4","tickSize":22,"tickColor":"#a8a8a8","domainColor":"#a8a8a8","labelAlign":"left","labelBaseline":"middle","labelPadding":-11,"labelDx":2,"labelFlush":false,"labelOverlap":false,"labelBound":false,"title":null,"minExtent":22,"maxExtent":22}},
"y":{"field":"v","type":"quantitative","scale":{"domain":[1.6,60.95],"nice":false,"zero":false},"axis":{"orient":"right","values":[2.5,5,7.5,10,12.5,15,17.5,20,22.5,25,27.5,30,32.5,35,37.5,40,42.5,45,47.5,50,52.5,55,57.5],"labelExpr":"datum.value % 5 === 0 && datum.value <= 55 ? replace(format(datum.value, '.2f'), '.', ',') : ''","tickSize":{"condition":{"test":"datum.value % 5 === 0","value":5},"value":3},"tickColor":"#707070","domainColor":"#707070","labelPadding":4,"labelBaseline":"middle","labelOverlap":false,"grid":false,"title":null,"minExtent":65,"maxExtent":65}}
},
"layer":[
{"data":{"name":"ellBot"},"transform":[{"filter":"datum.id==='B1'"}],"mark":{"type":"point","shape":"M-0.165,0A0.165,1 0 1,0 0.165,0A0.165,1 0 1,0 -0.165,0Z","size":26896,"filled":true,"fill":"#fbf7a0","stroke":"#c41818","strokeWidth":1,"opacity":1}},
{"data":{"name":"ellBot"},"transform":[{"filter":"datum.id==='B2'"}],"mark":{"type":"point","shape":"M-0.238,0A0.238,1 0 1,0 0.238,0A0.238,1 0 1,0 -0.238,0Z","size":22801,"filled":true,"fill":"#fbf7a0","stroke":"#c41818","strokeWidth":1,"opacity":1}},
{"data":{"name":"ellBot"},"transform":[{"filter":"datum.id==='B3'"}],"mark":{"type":"point","shape":"M-0.29,0A0.29,1 0 1,0 0.29,0A0.29,1 0 1,0 -0.29,0Z","size":32041,"filled":true,"fill":"#fbf7a0","stroke":"#c41818","strokeWidth":1,"opacity":1}},
{"data":{"name":"ellBot"},"transform":[{"filter":"datum.id==='B4'"}],"mark":{"type":"point","shape":"M-0.39,0A0.39,1 0 1,0 0.39,0A0.39,1 0 1,0 -0.39,0Z","size":21316,"filled":true,"fill":"#fbf7a0","stroke":"#c41818","strokeWidth":1,"opacity":1}},
{"data":{"name":"ind"},"mark":{"type":"line","stroke":"#e8742a","strokeWidth":1,"clip":true}}
]
},
{"data":{"values":[{}]},"mark":{"type":"point","clip":false,"shape":"square","size":64,"filled":true,"color":"#606060","opacity":1},"encoding":{"x":{"datum":10.745,"axis":null},"y":{"datum":59.1,"axis":null}}},
{"data":{"values":[{}]},"mark":{"type":"text","clip":false,"text":"15:30:00","align":"left","baseline":"middle","fontSize":12,"color":"#333344"},"encoding":{"x":{"datum":10.34,"axis":null},"y":{"datum":-1.35,"axis":null}}}
]
}
]
}
